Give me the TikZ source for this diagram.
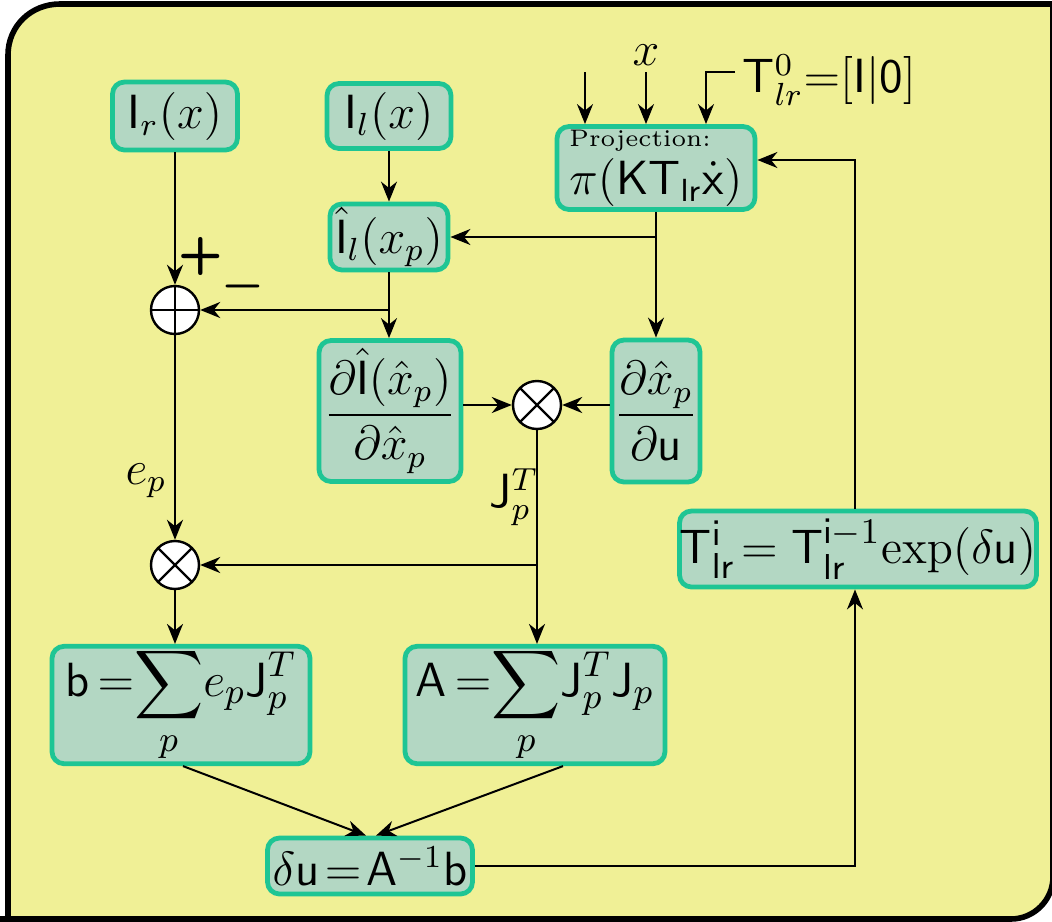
\documentclass[tikz,border=0pt]{standalone}
\usepackage{amsmath}
\usetikzlibrary{arrows.meta}
\definecolor{bgyellow}{HTML}{F0F096}
\definecolor{boxfill}{HTML}{B3D7C3}
\definecolor{boxdraw}{HTML}{1EC594}
\tikzset{
  box/.style={draw=boxdraw, fill=boxfill, line width=1.2pt, rounded corners=3pt, inner sep=0pt, align=center, font=\fontsize{11.7}{13}\selectfont},
  arr/.style={line width=0.5pt, -{Stealth[length=5pt,width=4pt,inset=1.6pt]}},
  sumop/.style={circle, draw, fill=white, line width=0.6pt, minimum size=12pt, inner sep=0pt,
    path picture={\draw[line width=0.6pt] (path picture bounding box.north) -- (path picture bounding box.south) (path picture bounding box.west) -- (path picture bounding box.east);}},
  mulop/.style={circle, draw, fill=white, line width=0.6pt, minimum size=12pt, inner sep=0pt,
    path picture={\draw[line width=0.6pt] (path picture bounding box.north west) -- (path picture bounding box.south east) (path picture bounding box.south west) -- (path picture bounding box.north east);}},
  lbl/.style={inner sep=0pt, font=\fontsize{11.7}{13}\selectfont},
  sign/.style={inner sep=0pt, font=\fontsize{13}{15}\selectfont\sffamily\bfseries}
}
\begin{document}
\begin{tikzpicture}[x=0.25pt, y=-0.25pt]
\useasboundingbox (0,0) rectangle (1052,922);
\begin{scope}
\clip (0,0) rectangle (1052,922);
\draw[fill=bgyellow, line width=1.4pt] (8,930) -- (8,55) .. controls (8,26) and (31,4) .. (60,4) -- (1060,4) -- (1053,4) -- (1053,877) .. controls (1053,900) and (1034,919) .. (1011,919) -- (-10,919);
\end{scope}

% boxes
\node[box, minimum width=31.25pt, minimum height=17pt] (ir) at (175,116) {$\mathsf{I}_r(x)$};
\node[box, minimum width=31pt, minimum height=16.25pt] (il) at (389,116) {$\mathsf{I}_l(x)$};
\node[box, minimum width=49.5pt, minimum height=20.75pt, align=left] (proj) at (656,168)
  {{\fontsize{6}{6}\selectfont Projection:}\\[-1pt]$\pi(\mathsf{K}\mathsf{T}_{\mathsf{lr}}\dot{\mathsf{x}})$};
\node[box, minimum width=29.5pt, minimum height=16.5pt] (ilhat) at (389,237) {$\hat{\mathsf{I}}_l(x_p)$};
\node[box, minimum width=35.5pt, minimum height=35.25pt] (dI) at (390,411)
  {$\dfrac{\partial\hat{\mathsf{I}}(\hat{x}_p)}{\partial\hat{x}_p}$};
\node[box, minimum width=22pt, minimum height=35.5pt] (dx) at (656,411)
  {$\dfrac{\partial\hat{x}_p}{\partial\mathsf{u}}$};
\node[box, minimum width=89.25pt, minimum height=19pt, font=\fontsize{12.3}{14}\selectfont] (T) at (858,549)
  {$\mathsf{T}^{\mathsf{i}}_{\mathsf{lr}}\!=\mathsf{T}^{\mathsf{i}-1}_{\mathsf{lr}}\mathrm{exp}(\delta\mathsf{u})$};
\node[box, minimum width=64.5pt, minimum height=27.5pt, font=\fontsize{13}{15}\selectfont] (b) at (181,705)
  {$\mathsf{b}\,{=}\!\displaystyle\sum_p\! e_p\mathsf{J}_p^T$};
\node[box, minimum width=65pt, minimum height=27.5pt, font=\fontsize{13}{15}\selectfont] (A) at (535,705)
  {$\mathsf{A}\,{=}\!\displaystyle\sum_p\!\mathsf{J}_p^T\mathsf{J}_p$};
\node[box, minimum width=51.25pt, minimum height=14pt] (du) at (370,866)
  {$\delta\mathsf{u}\!=\!\mathsf{A}^{-1}\mathsf{b}$};

% operators
\node[sumop] (plus) at (175,310) {};
\node[mulop] (mul) at (537,405) {};
\node[mulop] (mul2) at (175,565) {};

% inputs on top
\coordinate (in1) at (585,72);
\coordinate (in2) at (646,72);
\coordinate (in3) at (735,72);
\coordinate (c3) at (706,72);
\draw[arr] (in1) -- (in1 |- proj.north);
\draw[arr] (in2) -- (in2 |- proj.north);
\draw[arr] (in3) -- (c3) -- (c3 |- proj.north);
\node[lbl] (xlbl) at (646,55) {$x$};
\node[lbl, anchor=west] (tlbl) at (742,80) {$\mathsf{T}^0_{lr}{=}[\mathsf{I}|\mathsf{0}]$};

% connectors
\draw[arr] (ir) -- (plus);
\node[sign] (plussign) at (201,256) {+};
\draw[arr] (il) -- (ilhat);
\draw[arr] (proj.south) -- (proj.south |- dx.north);
\draw[arr] (proj.south |- ilhat.east) -- (ilhat.east);
\draw[arr] (ilhat.south) -- (ilhat.south |- dI.north);
\draw[arr] (ilhat.south |- plus.east) -- (plus.east);
\node[sign] (minussign) at (243,286) {$\boldsymbol{-}$};
\draw[arr] (dI.east |- mul) -- (mul.west);
\draw[arr] (dx.west |- mul) -- (mul.east);
\draw[arr] (mul.south) -- (mul.south |- A.north);
\node[lbl] (jlbl) at (514,497) {$\mathsf{J}_p^T$};
\draw[arr] (mul.south |- mul2.east) -- (mul2.east);
\draw[arr] (plus) -- (mul2);
\node[lbl] (eplbl) at (146,481) {$e_p$};
\draw[arr] (mul2) -- (mul2 |- b.north);
\draw[arr] ([xshift=0.5pt]b.south) -- ([xshift=-1pt]du.north);
\draw[arr] ([xshift=7pt]A.south) -- ([xshift=1.5pt]du.north);
\draw[arr] (du.east) -| ([xshift=-0.75pt]T.south);
\draw[arr] ([xshift=-0.75pt]T.north) |- ([yshift=2pt]proj.east);
\end{tikzpicture}
\end{document}
